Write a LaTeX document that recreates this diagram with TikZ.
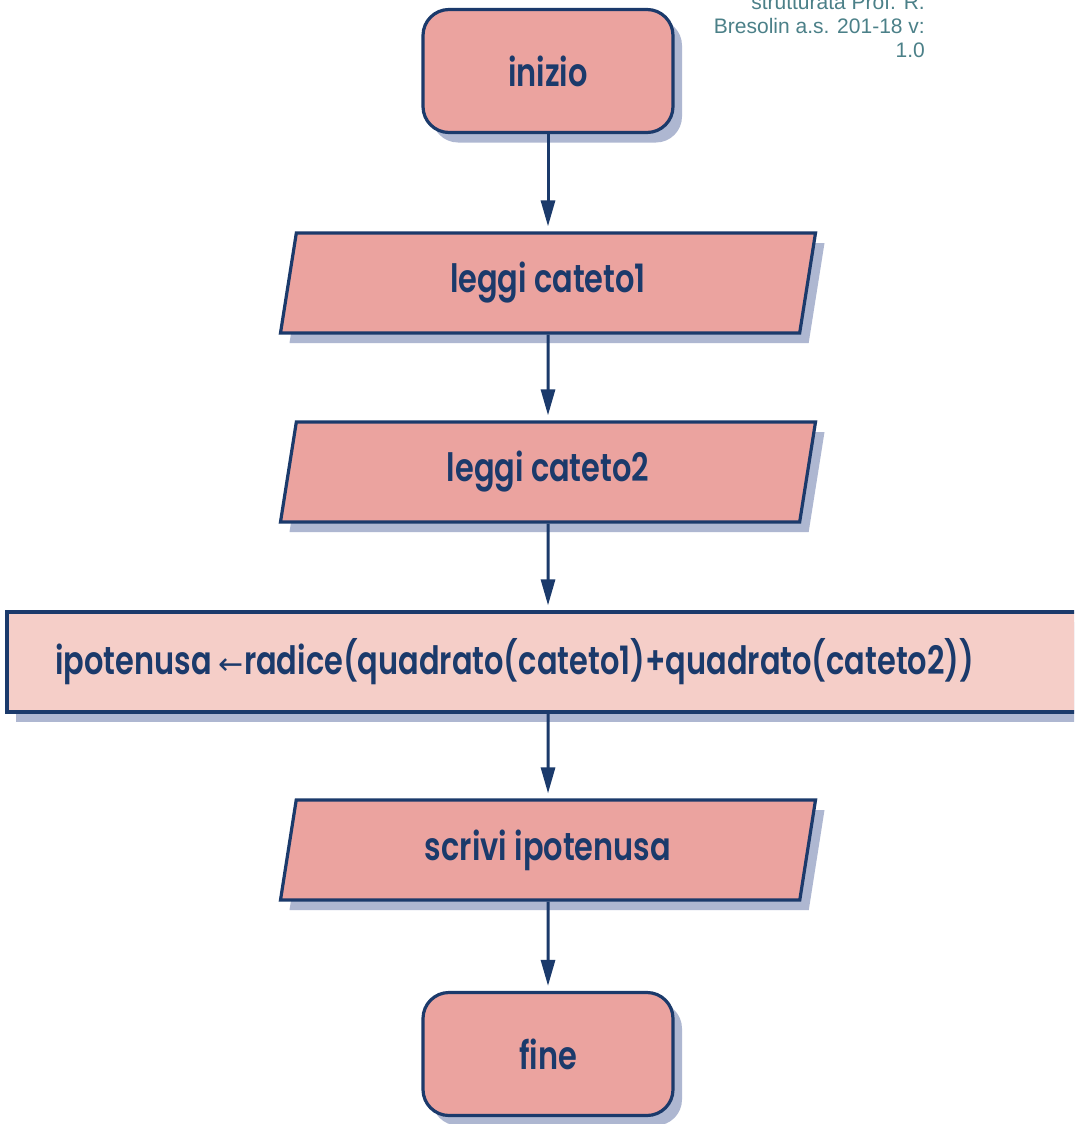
\documentclass[tikz,border=0pt]{standalone}
\usepackage{fontspec}
\setmainfont{Liberation Sans}
\newfontfamily\flowfont[FakeStretch=0.78]{Poppins SemiBold}
\newfontfamily\arrowfont{DejaVu Sans}
\usetikzlibrary{shapes.geometric,shadows,arrows.meta}
\definecolor{boxpink}{HTML}{EBA39F}
\definecolor{lightpink}{HTML}{F5CEC8}
\definecolor{navy}{HTML}{1B3A6B}
\definecolor{shadowblue}{HTML}{AEB7D1}
\definecolor{noteteal}{HTML}{4B8088}
\tikzset{
  flowtext/.style={text=navy, font=\flowfont\fontsize{39}{44}\selectfont},
  base/.style={draw=navy, line width=3.2pt, flowtext,
    drop shadow={fill=shadowblue, opacity=1, shadow xshift=9pt, shadow yshift=-10pt}},
  terminal/.style={base, fill=boxpink, rounded corners=26pt,
    minimum width=250pt, minimum height=123pt},
  io/.style={base, fill=boxpink, trapezium, trapezium left angle=71.7,
    trapezium right angle=108.3, trapezium stretches body,
    minimum width=535pt, minimum height=100pt},
  process/.style={base, fill=lightpink, minimum width=1094pt, minimum height=100pt},
  flow/.style={navy, line width=3pt, -{Triangle[width=14pt,length=26pt]}, shorten >=5pt}
}
\begin{document}
\begin{tikzpicture}[x=1pt,y=-1pt]
\useasboundingbox (0,0) rectangle (1074,1124);
\clip (0,0) rectangle (1074,1124);
\fill[white] (0,0) rectangle (1074,1124);

\node[terminal] (start) at (548,71) {inizio};
\node[io] (read1) at (548,283) {leggi cateto1};
\node[io] (read2) at (548,472) {leggi cateto2};
\node[process] (calc) at (554,662) {};
\node[flowtext, anchor=west, inner sep=0pt] (calctext) at (55,662)
  {ipotenusa {\arrowfont\fontsize{30}{34}\selectfont ←}radice(quadrato(cateto1)+quadrato(cateto2))};
\node[io] (write) at (548,850) {scrivi ipotenusa};
\node[terminal] (stop) at (548,1054) {fine};

\draw[flow] (start) -- (read1);
\draw[flow] (read1) -- (read2);
\draw[flow] (read2) -- (calc.north -| read2.south);
\draw[flow] (calc.south -| write.north) -- (write);
\draw[flow] (write) -- (stop);

\node[text=noteteal, align=right, anchor=south east, inner sep=0pt,
  font=\fontsize{21}{24}\selectfont] (note) at (925,58)
  {strutturata Prof. R.\\Bresolin a.s. 201-18 v:\\1.0};
\end{tikzpicture}
\end{document}
